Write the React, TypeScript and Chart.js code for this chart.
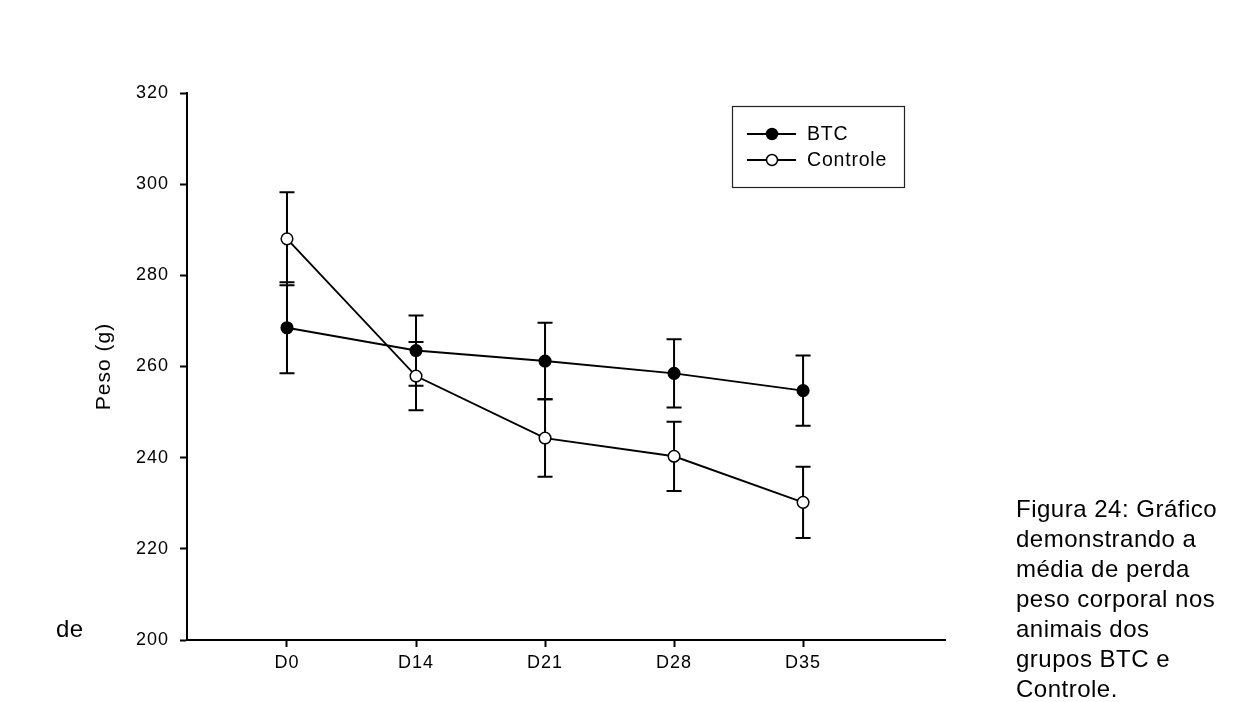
import React, { useEffect, useRef } from "react";
import { Chart, registerables } from "chart.js";

Chart.register(...registerables);

const categories = ["D0", "D14", "D21", "D28", "D35"];
const seriesNames = ["BTC", "Controle"];
const btcMean = [268.5, 263.5, 261.2, 258.5, 254.7];
const btcErr = [10.0, 7.7, 8.4, 7.5, 7.7];
const controleMean = [288.0, 257.9, 244.3, 240.3, 230.2];
const controleErr = [10.2, 7.5, 8.5, 7.6, 7.8];
const yTicks = [200, 220, 240, 260, 280, 300, 320];
const yAxisTitle = "Peso (g)";
const captionLines = [
  "Figura 24: Gráfico",
  "demonstrando a",
  "média de perda",
  "peso corporal nos",
  "animais dos",
  "grupos BTC e",
  "Controle.",
];
const strayWord = "de";

const FONT = "'Liberation Sans', Arial, sans-serif";

const spacingPlugin = {
  id: "spacing",
  beforeDraw(chart: any) {
    (chart.ctx as any).letterSpacing = "1px";
  },
};

const errorBarPlugin = {
  id: "errorBars",
  beforeDatasetsDraw(chart: any) {
    const { ctx, scales } = chart;
    const x = scales.x;
    const y = scales.y;
    ctx.save();
    ctx.strokeStyle = "#000";
    ctx.lineWidth = 2;
    chart.data.datasets.forEach((ds: any) => {
      ds.data.forEach((p: any, i: number) => {
        const e = ds.errors[i];
        const px = x.getPixelForValue(p.x);
        const yt = y.getPixelForValue(p.y + e);
        const yb = y.getPixelForValue(p.y - e);
        ctx.beginPath();
        ctx.moveTo(px, yt);
        ctx.lineTo(px, yb);
        ctx.moveTo(px - 7.5, yt);
        ctx.lineTo(px + 7.5, yt);
        ctx.moveTo(px - 7.5, yb);
        ctx.lineTo(px + 7.5, yb);
        ctx.stroke();
      });
    });
    ctx.restore();
  },
};

const legendPlugin = {
  id: "boxLegend",
  afterDraw(chart: any) {
    const ctx = chart.ctx;
    ctx.save();
    ctx.letterSpacing = "0.8px";
    ctx.lineWidth = 1.2;
    ctx.strokeStyle = "#222";
    ctx.strokeRect(732.5, 106.5, 172, 81);
    chart.data.datasets.forEach((ds: any, i: number) => {
      const yy = 134 + i * 26;
      ctx.strokeStyle = "#000";
      ctx.lineWidth = 1.8;
      ctx.beginPath();
      ctx.moveTo(747, yy);
      ctx.lineTo(796, yy);
      ctx.stroke();
      ctx.beginPath();
      ctx.arc(772, yy, 5.5, 0, Math.PI * 2);
      ctx.fillStyle = ds.pointBackgroundColor;
      ctx.fill();
      ctx.lineWidth = 1.5;
      ctx.stroke();
      ctx.fillStyle = "#000";
      ctx.font = `19.5px ${FONT}`;
      ctx.textBaseline = "middle";
      ctx.textAlign = "left";
      ctx.fillText(ds.label, 807, yy + 1);
    });
    ctx.restore();
  },
};

export default function App() {
  const ref = useRef<HTMLCanvasElement | null>(null);

  useEffect(() => {
    if (!ref.current) return;
    const mk = (vals: number[]) => vals.map((v, i) => ({ x: i, y: v }));
    const chart = new Chart(ref.current, {
      type: "line",
      data: {
        datasets: [
          {
            label: seriesNames[0],
            data: mk(btcMean),
            errors: btcErr,
            borderColor: "#000",
            borderWidth: 1.9,
            pointRadius: 5.8,
            pointBorderWidth: 1.5,
            pointBackgroundColor: "#000",
            pointBorderColor: "#000",
            tension: 0,
          } as any,
          {
            label: seriesNames[1],
            data: mk(controleMean),
            errors: controleErr,
            borderColor: "#000",
            borderWidth: 1.9,
            pointRadius: 5.8,
            pointBorderWidth: 1.5,
            pointBackgroundColor: "#fff",
            pointBorderColor: "#000",
            tension: 0,
          } as any,
        ],
      },
      options: {
        responsive: false,
        animation: false,
        devicePixelRatio: 1,
        layout: { padding: { top: 93, right: 290, bottom: 22, left: 0 } },
        plugins: {
          legend: { display: false },
          tooltip: { enabled: false },
        },
        scales: {
          x: {
            type: "linear",
            min: -0.775,
            max: 5.1,
            afterBuildTicks: (s: any) => {
              s.ticks = categories.map((_, i) => ({ value: i }));
            },
            afterFit: (s: any) => {
              s.height = 40;
            },
            ticks: {
              callback: (v: any) => categories[v] ?? "",
              font: { family: FONT, size: 18 },
              color: "#000",
              padding: 5,
              autoSkip: false,
              maxRotation: 0,
            },
            grid: {
              drawOnChartArea: false,
              drawTicks: true,
              tickLength: 7,
              tickWidth: 2,
              tickColor: "#000",
            },
            border: { display: true, color: "#000", width: 2 },
          },
          y: {
            type: "linear",
            min: yTicks[0],
            max: yTicks[yTicks.length - 1],
            afterBuildTicks: (s: any) => {
              s.ticks = yTicks.map((v) => ({ value: v }));
            },
            afterFit: (s: any) => {
              s.width = 187;
            },
            ticks: {
              font: { family: FONT, size: 18 },
              color: "#000",
              padding: 11,
            },
            grid: {
              drawOnChartArea: false,
              drawTicks: true,
              tickLength: 7,
              tickWidth: 2,
              tickColor: "#000",
            },
            border: { display: true, color: "#000", width: 2 },
            title: {
              display: true,
              text: yAxisTitle,
              font: { family: FONT, size: 21 },
              color: "#000",
              padding: { top: 92, bottom: 0 },
            },
          },
        },
      },
      plugins: [spacingPlugin, errorBarPlugin, legendPlugin],
    } as any);
    return () => chart.destroy();
  }, []);

  const textStyle: React.CSSProperties = {
    position: "absolute",
    fontFamily: FONT,
    fontSize: "24px",
    lineHeight: "30px",
    letterSpacing: "0.5px",
    color: "#000",
    whiteSpace: "nowrap",
  };

  return (
    <div style={{ position: "absolute", left: 0, top: 0, width: 1235, height: 702, background: "#fff" }}>
      <canvas ref={ref} width={1235} height={702} style={{ position: "absolute", left: 0, top: 0, width: 1235, height: 702 }} />
      <div style={{ ...textStyle, left: 1016, top: 494 }}>
        {captionLines.map((l, i) => (
          <div key={i}>{l}</div>
        ))}
      </div>
      <div style={{ ...textStyle, left: 56, top: 494 + 4 * 30 }}>{strayWord}</div>
    </div>
  );
}
